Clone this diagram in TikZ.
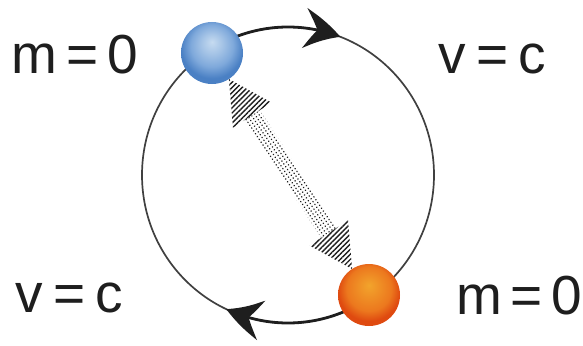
\documentclass[tikz,border=0pt]{standalone}
\usepackage{fontspec}
\setmainfont{Liberation Sans}
\usetikzlibrary{arrows.meta,bending,calc,patterns.meta}

\definecolor{bhi}{HTML}{C6DBF0}
\definecolor{bmid}{HTML}{7FA9DB}
\definecolor{bedge}{HTML}{4A80C4}
\definecolor{ohi}{HTML}{F2A42C}
\definecolor{omid}{HTML}{EC781E}
\definecolor{oedge}{HTML}{DF4A10}
\definecolor{ink}{HTML}{1E1E1E}

% soft spheres: highlight slightly above the centre
\pgfdeclareradialshading{blueball}{\pgfpoint{0bp}{9bp}}{%
  color(0bp)=(bhi); color(8bp)=(bhi!55!bmid); color(17bp)=(bmid);
  color(25bp)=(bedge); color(50bp)=(bedge)}
\pgfdeclareradialshading{orangeball}{\pgfpoint{0bp}{8bp}}{%
  color(0bp)=(ohi); color(9bp)=(ohi!50!omid); color(18bp)=(omid);
  color(25bp)=(oedge); color(50bp)=(oedge)}

\tikzset{
  ballnode/.style={circle, minimum size=62pt, inner sep=0pt},
  lab/.style={font=\fontsize{55}{60}\selectfont, text=ink, inner sep=0pt, anchor=base west},
  orbit/.style={draw=black!75, line width=1.7pt},
  flowline/.style={draw=ink, line width=2.8pt,
    -{Stealth[length=37pt, width=40pt, inset=13pt, bend]}},
  headfill/.style={pattern={Lines[angle=45, distance=3.6pt, line width=1.4pt]}, pattern color=ink},
  shaftfill/.style={pattern={Dots[angle=33.7, distance=3.4pt, radius=0.85pt]}, pattern color=ink},
}

\begin{document}
\begin{tikzpicture}[x=1pt, y=-1pt]
  \useasboundingbox (0,0) rectangle (583,345);

  \coordinate (C) at (288,175);

  % the orbit
  \draw[orbit] (C) ellipse [x radius=146, y radius=148];

  % direction of motion along the orbit
  \draw[flowline] ($(C)+(-122:146 and 148)$)
    arc[start angle=-122, end angle=-69, x radius=146, y radius=148];
  \draw[flowline] ($(C)+(56:146 and 148)$)
    arc[start angle=56, end angle=115, x radius=146, y radius=148];

  % the two particles
  \node[ballnode, shading=blueball] (blue) at (212,53) {};
  \node[ballnode, shading=orangeball] (orange) at (369,295) {};

  % double arrow between the particles
  \coordinate (tA) at ($(blue.center)!31pt!(orange.center)$);
  \coordinate (tB) at ($(orange.center)!31pt!(blue.center)$);
  \coordinate (hA) at ($(tA)!43pt!(tB)$);
  \coordinate (hB) at ($(tB)!43pt!(tA)$);
  \fill[shaftfill] ($(hA)!9pt!90:(tB)$) -- ($(hB)!9pt!-90:(tA)$)
    -- ($(hB)!9pt!90:(tA)$) -- ($(hA)!9pt!-90:(tB)$) -- cycle;
  \fill[headfill] (tA) -- ($(hA)!23pt!90:(tB)$) -- ($(hA)!23pt!-90:(tB)$) -- cycle;
  \fill[headfill] (tB) -- ($(hB)!23pt!90:(tA)$) -- ($(hB)!23pt!-90:(tA)$) -- cycle;

  % labels
  \node[lab] (mtop) at (11.5,74) {m\hspace{0.16em}=\hspace{0.16em}0};
  \node[lab] (vtop) at (438,74) {v\hspace{0.19em}=\hspace{0.19em}c};
  \node[lab] (vbot) at (15,312) {v\hspace{0.19em}=\hspace{0.19em}c};
  \node[lab] (mbot) at (456,314) {m\hspace{0.16em}=\hspace{0.16em}0};
\end{tikzpicture}
\end{document}
